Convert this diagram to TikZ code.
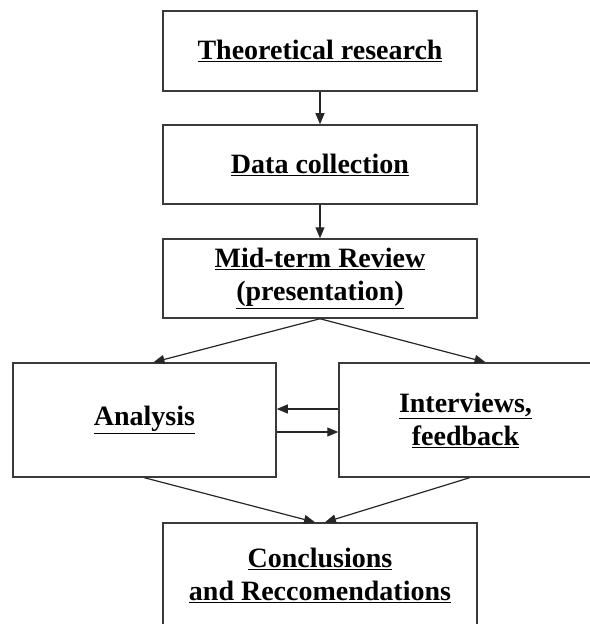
\documentclass[tikz,border=0pt]{standalone}
\usepackage{fontspec}
\setmainfont{Liberation Serif}
\usetikzlibrary{arrows.meta,calc}
\definecolor{boxline}{HTML}{3A3A3A}
\begin{document}
\begin{tikzpicture}[x=1bp,y=-1bp,
  stepbox/.style={draw=boxline,line width=1.5bp,rectangle,inner sep=0pt,
    align=center,font=\fontsize{28bp}{33bp}\selectfont\bfseries},
  conn/.style={draw=black!85,line width=1.2bp,-{Triangle[length=11bp,width=9bp]}}]
\useasboundingbox (0,0) rectangle (590,624);
\begin{scope}
\clip (0,0) rectangle (590,624);
\node[stepbox,minimum width=314bp,minimum height=80bp] (t1) at (320,51) {\underline{Theoretical research}};
\node[stepbox,minimum width=314bp,minimum height=79bp] (t2) at (320,164.5) {\underline{Data collection}};
\node[stepbox,minimum width=314bp,minimum height=79bp] (t3) at (320,278.5) {\underline{Mid-term Review}\\\underline{(presentation)}};
\node[stepbox,minimum width=263bp,minimum height=114bp] (ana) at (144.5,420) {\underline{Analysis}};
\node[stepbox,minimum width=253bp,minimum height=114bp] (int) at (465.5,420) {\underline{Interviews,}\\\underline{feedback}};
\node[stepbox,minimum width=314bp,minimum height=105bp] (conc) at (320,575.5) {\underline{Conclusions}\\\underline{and Reccomendations}};
\draw[conn] (t1) -- (t2);
\draw[conn] (t2) -- (t3);
\draw[conn] (t3.south) -- ([xshift=9bp]ana.north);
\draw[conn] (t3.south) -- ([xshift=20bp]int.north);
\draw[conn] ([yshift=11bp]int.west) -- ([yshift=11bp]ana.east);
\draw[conn] ([yshift=-12bp]ana.east) -- ([yshift=-12bp]int.west);
\draw[conn] (ana.south) -- ([xshift=-5bp]conc.north);
\draw[conn] ([xshift=4bp]int.south) -- ([xshift=5bp]conc.north);
\end{scope}
\end{tikzpicture}
\end{document}
